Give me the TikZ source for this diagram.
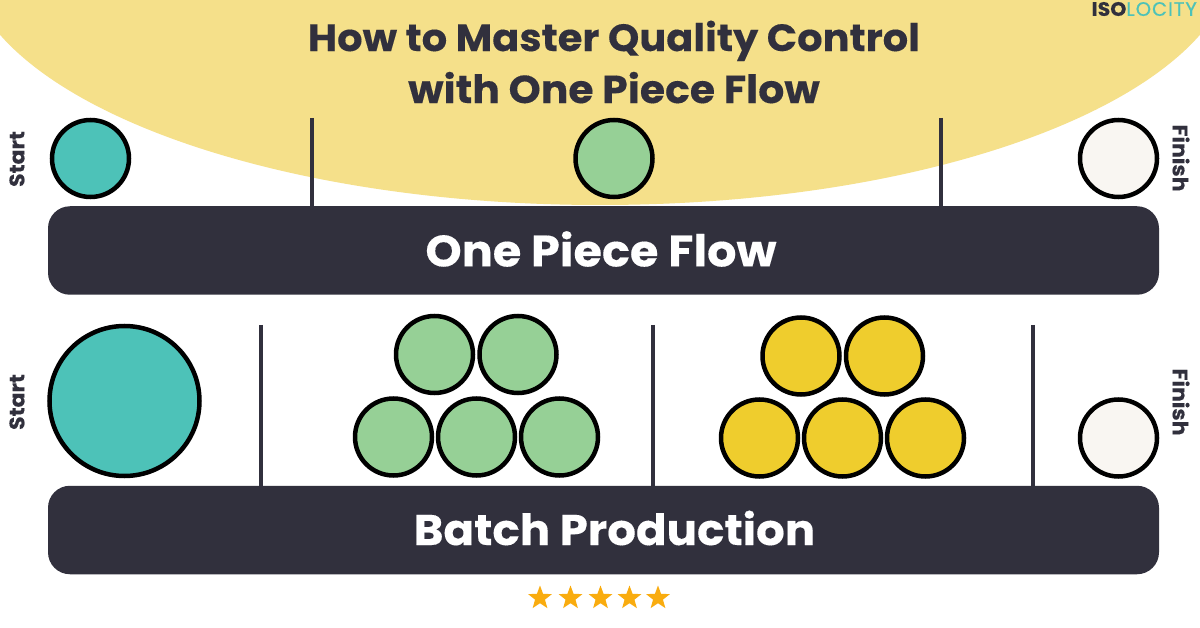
\documentclass[tikz,border=0pt]{standalone}
\usepackage{fontspec}
\setmainfont{Poppins}[BoldFeatures={FakeStretch=1.05,FakeBold=0.25}]
\usepackage{tikz}
\usetikzlibrary{positioning,calc,shapes.geometric}
\definecolor{sandfill}{HTML}{F5E08A}
\definecolor{barfill}{HTML}{31303D}
\definecolor{tealfill}{HTML}{4DC2B8}
\definecolor{greenfill}{HTML}{96D096}
\definecolor{goldfill}{HTML}{EFCD2D}
\definecolor{paperfill}{HTML}{F9F6F2}
\definecolor{starfill}{HTML}{F9AC0F}
\begin{document}
\begin{tikzpicture}[
    x=1pt, y=-1pt,
    piece/.style={circle, draw=black, line width=4.5pt, inner sep=0pt, outer sep=0pt, minimum size=77pt},
    bar/.style={fill=barfill, rounded corners=22pt, inner sep=0pt, minimum width=1111pt, minimum height=88.5pt},
    barlabel/.style={text=white, inner sep=0pt},
    side/.style={text=barfill, font=\fontsize{21}{21}\selectfont\bfseries, inner sep=0pt},
    divider/.style={draw=barfill, line width=3.5pt},
    rating/.style={star, star points=5, star point ratio=2.4, fill=starfill, inner sep=0pt, minimum size=25pt}
]
\useasboundingbox (0,0) rectangle (1200,628);
\fill[white] (0,0) rectangle (1200,628);
\begin{scope}
\clip (0,0) rectangle (1200,628);
\fill[sandfill] (600,-50) ellipse [x radius=636pt, y radius=255pt];
\end{scope}

\node[font=\fontsize{38}{52}\selectfont\bfseries, text=barfill, align=center] (title) at (614,62) {How to Master Quality Control\\{\fontsize{39}{52}\selectfont with One Piece Flow}};
\node[font=\fontsize{19.5}{20}\selectfont\bfseries, inner sep=0pt, anchor=east] (logo) at (1197,9) {\textcolor{barfill}{ISO}\textcolor{tealfill}{\mdseries\addfontfeature{FakeBold=0.7,LetterSpace=5}LOCITY}};

\node[bar] (flowbar) at (603.5,250.5) {};
\node[barlabel, font=\fontsize{44}{44}\selectfont\bfseries] (flowlabel) at (601,249) {One Piece Flow};
\node[bar] (batchbar) at (603.5,530) {};
\node[barlabel, font=\fontsize{43}{43}\selectfont\bfseries] (batchlabel) at (614.5,528) {Batch Production};

% one piece flow
\node[side, rotate=90] (startA) at (17,159) {Start};
\node[side, rotate=-90] (finishA) at (1181,158) {Finish};
\node[piece, fill=tealfill] (firstA) at (90.5,158.5) {};
\node[piece, fill=greenfill] (midA) at (614,158.5) {};
\node[piece, fill=paperfill] (lastA) at (1118.5,158.5) {};
\coordinate (cutA) at (312,118);
\coordinate (cutB) at (941,118);
\draw[divider] (cutA) -- (cutA |- flowbar.north);
\draw[divider] (cutB) -- (cutB |- flowbar.north);

% batch production
\node[side, rotate=90] (startB) at (17,402) {Start};
\node[side, rotate=-90] (finishB) at (1181,402) {Finish};
\node[piece, fill=tealfill, minimum size=150pt] (firstB) at (124.5,401) {};
\node[piece, fill=greenfill] (greenA) at (434.5,354.5) {};
\node[piece, fill=greenfill] (greenB) at (518,354.5) {};
\node[piece, fill=greenfill] (greenC) at (393.5,437) {};
\node[piece, fill=greenfill] (greenD) at (476.5,437) {};
\node[piece, fill=greenfill] (greenE) at (559.5,437) {};
\node[piece, fill=goldfill] (goldA) at (801,356) {};
\node[piece, fill=goldfill] (goldB) at (884.5,356) {};
\node[piece, fill=goldfill] (goldC) at (759.5,438) {};
\node[piece, fill=goldfill] (goldD) at (842.5,438) {};
\node[piece, fill=goldfill] (goldE) at (925.5,438) {};
\node[piece, fill=paperfill] (lastB) at (1118.5,438) {};
\coordinate (cutC) at (261,325);
\coordinate (cutD) at (653,325);
\coordinate (cutE) at (1033,325);
\draw[divider] (cutC) -- (cutC |- batchbar.north);
\draw[divider] (cutD) -- (cutD |- batchbar.north);
\draw[divider] (cutE) -- (cutE |- batchbar.north);

% stars
\node[rating] (starA) at (540,598) {};
\node[rating] (starB) at (570.5,598) {};
\node[rating] (starC) at (600.5,598) {};
\node[rating] (starD) at (629.5,598) {};
\node[rating] (starE) at (658,598) {};
\end{tikzpicture}
\end{document}
